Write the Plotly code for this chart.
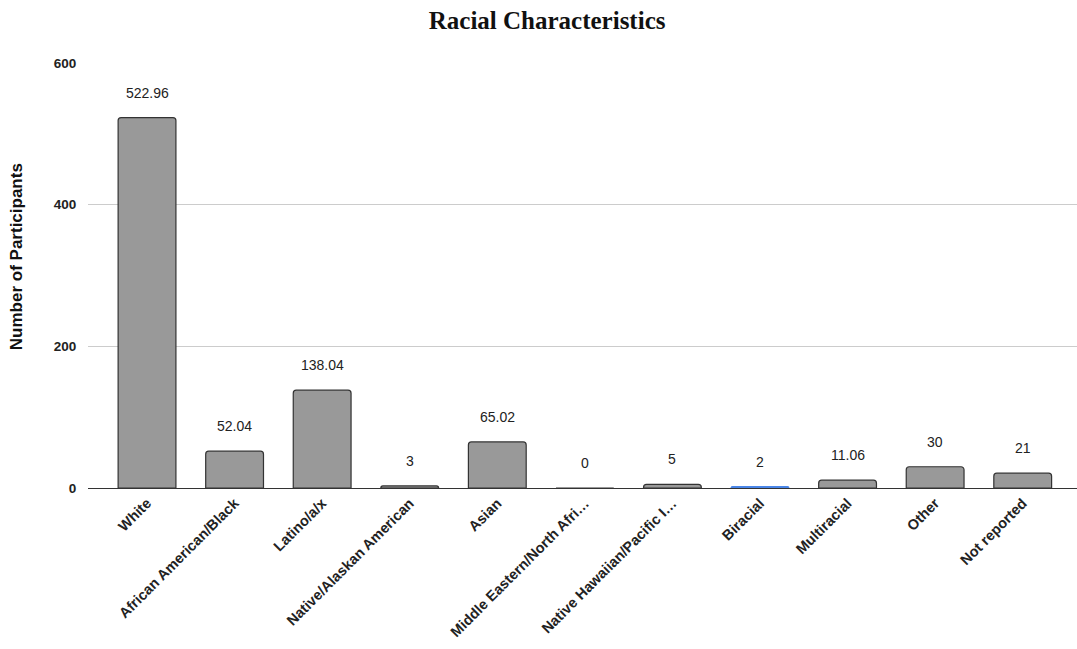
import plotly.graph_objects as go

categories = ["White", "African American/Black", "Latino/a/x", "Native/Alaskan American",
              "Asian", "Middle Eastern/North Afri…", "Native Hawaiian/Pacific I…",
              "Biracial", "Multiracial", "Other", "Not reported"]
participants = [522.96, 52.04, 138.04, 3, 65.02, 0, 5, 2, 11.06, 30, 21]
value_labels = ["522.96", "52.04", "138.04", "3", "65.02", "0", "5", "2", "11.06", "30", "21"]
y_ticks = [0, 200, 400, 600]

x_idx = list(range(len(categories)))
fill = ["#4a86e8" if c == "Biracial" else "#999999" for c in categories]
edge = ["#4a86e8" if c == "Biracial" else "#333333" for c in categories]

fig = go.Figure()
fig.add_trace(go.Bar(
    x=x_idx, y=participants, width=0.66,
    marker=dict(color=fill, line=dict(color=edge, width=1.2), cornerradius=3),
    hoverinfo="skip",
))

for i, (v, t) in enumerate(zip(participants, value_labels)):
    fig.add_annotation(x=i, y=v, text=t, showarrow=False, yanchor="bottom",
                       yshift=15, font=dict(family="Arial, Liberation Sans", size=14, color="#222"))

# vertical axis title
fig.add_annotation(xref="paper", yref="paper", x=-0.072, y=0.545, xanchor="center",
                   yanchor="middle", textangle=-90, showarrow=False,
                   text="<b>Number of Participants</b>",
                   font=dict(family="Arial, Liberation Sans", size=17, color="#111"))

fig.update_layout(
    width=1077, height=649,
    margin=dict(l=88, r=0, t=63, b=161),
    paper_bgcolor="white", plot_bgcolor="white",
    showlegend=False,
    title=dict(text="<b>Racial Characteristics</b>", x=0.508, xanchor="center",
               y=0.969, yanchor="middle",
               font=dict(family="Liberation Serif, Times New Roman, serif", size=25, color="#111")),
    bargap=0.34,
)
fig.update_xaxes(
    range=[-0.674, 10.62], tickmode="array", tickvals=x_idx,
    ticktext=[f"<b>{c}</b>" for c in categories], tickangle=-45,
    tickfont=dict(family="Arial, Liberation Sans", size=14.5, color="#222"),
    showline=True, linecolor="#333", linewidth=1.2, showgrid=False, zeroline=False,
    ticks="", fixedrange=True,
)
fig.update_yaxes(
    range=[0, 600], tickmode="array", tickvals=y_ticks,
    ticktext=[f"<b>{v}</b>" for v in y_ticks],
    tickfont=dict(family="Arial, Liberation Sans", size=13.5, color="#222"),
    showgrid=True, gridcolor="#cccccc", gridwidth=1, zeroline=False,
    ticks="outside", ticklen=8, tickcolor="rgba(0,0,0,0)",
)

fig.write_html("out.html")
